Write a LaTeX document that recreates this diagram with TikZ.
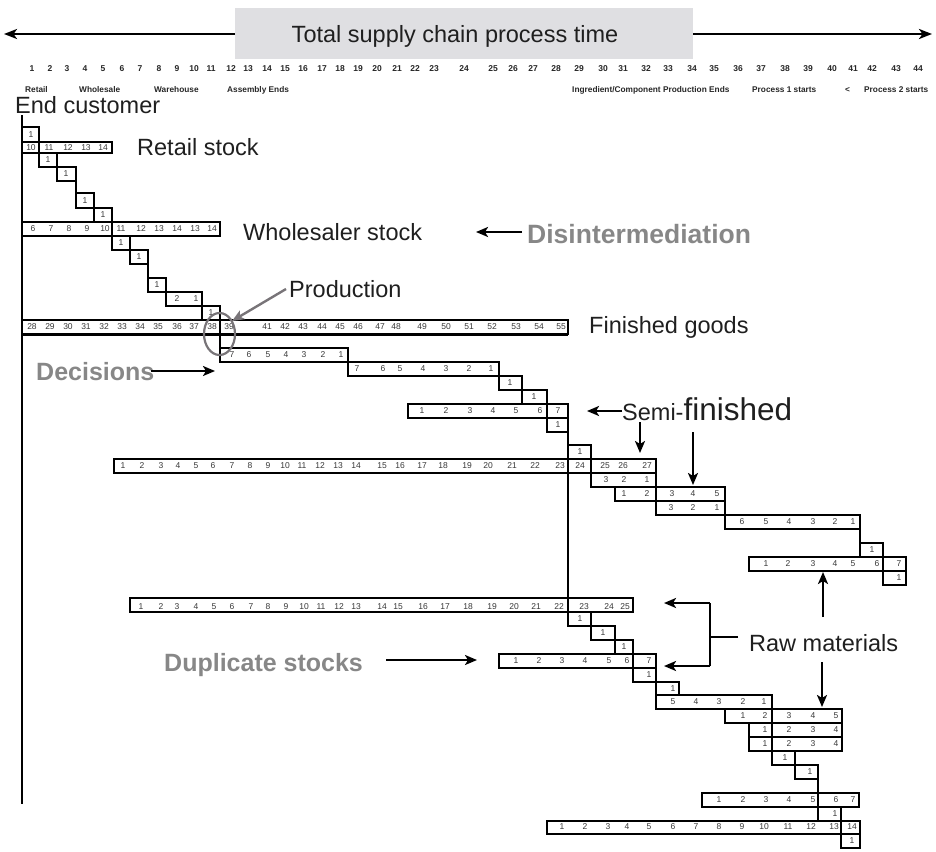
\documentclass[tikz,border=0pt]{standalone}
\usepackage{fontspec}
\setmainfont{Liberation Sans}
\usetikzlibrary{arrows.meta}
\definecolor{labelgrey}{RGB}{135,135,135}
\definecolor{bargrey}{RGB}{223,223,226}
\definecolor{digitgrey}{RGB}{55,55,55}
\definecolor{prodgrey}{RGB}{120,116,120}
% number row: #1 = name prefix, #2 = y of the row centre, #3 = list of x/number
\newcommand\cellnums[3]{%
  \foreach \cx/\cn [count=\ci] in {#3}
    \node[num] (#1-\ci) at (\cx,#2) {\cn};}
\begin{document}
\begin{tikzpicture}[x=1pt,y=-1pt,
  box/.style={draw=black,line width=2pt,line join=miter},
  spine/.style={draw=black,line width=2pt},
  num/.style={font=\fontsize{8.5}{9}\selectfont,text=digitgrey,inner sep=0pt},
  axisnum/.style={font=\bfseries\fontsize{8.5}{9}\selectfont,text=black!85,inner sep=0pt},
  axislbl/.style={font=\bfseries\fontsize{8.3}{9}\selectfont,text=black!85,inner sep=0pt,anchor=base west},
  biglabel/.style={font=\fontsize{23.5}{26}\selectfont,text=black!88,inner sep=0pt,anchor=base west},
  greylabel/.style={font=\bfseries\fontsize{25}{28}\selectfont,text=labelgrey,inner sep=0pt,anchor=base west},
  pointer/.style={line width=2.2pt,-{Stealth[length=12pt,width=10pt,inset=3pt]}},
  axisarrow/.style={line width=2.6pt,-{Stealth[length=13pt,width=10pt,inset=3.5pt]}},
]
\useasboundingbox (0,0) rectangle (936,851);

% ---------- time axis ----------
\fill[bargrey] (235,8) rectangle (693,59);
\node[font=\fontsize{23.5}{26}\selectfont,text=black!88,inner sep=0pt,anchor=base] (title) at (455,42) {Total supply chain process time};
\coordinate (axL) at (4,34);
\coordinate (axR) at (932,34);
\coordinate (barL) at (235,34);
\coordinate (barR) at (693,34);
\draw[axisarrow] (barL) -- (axL);
\draw[axisarrow] (barR) -- (axR);

\foreach \ax [count=\ai] in {32,50,67,85,103,122,140,159,177,194,211,231,248,267,285,303,322,340,358,377,397,415,434,464,493,513,533,556,579,603,623,646,668,692,714,738,761,785,808,832,853,872,896,918}
  \node[axisnum] (t\ai) at (\ax,69) {\ai};

\node[axislbl] (lretail) at (25,92) {Retail};
\node[axislbl] (lwhole) at (79,92) {Wholesale};
\node[axislbl] (lware) at (154,92) {Warehouse};
\node[axislbl] (lassy) at (227,92) {Assembly Ends};
\node[axislbl] (lingr) at (572,92) {Ingredient/Component Production Ends};
\node[axislbl] (lproc1) at (752,92) {Process 1 starts};
\node[axislbl] (llt) at (845,92) {<};
\node[axislbl] (lproc2) at (864,92) {Process 2 starts};

% ---------- labels ----------
\node[biglabel] (endcust) at (15,113) {End customer};
\node[biglabel] (retail) at (137,155) {Retail stock};
\node[biglabel] (whole) at (243,240) {Wholesaler stock};
\node[biglabel] (prod) at (289,297) {Production};
\node[biglabel] (fin) at (589,333) {Finished goods};
\node[biglabel] (semi) at (622,420) {Semi-{\fontsize{31.5}{34}\selectfont finished}};
\node[biglabel] (raw) at (749,651) {Raw materials};
\node[greylabel,font=\bfseries\fontsize{26.5}{29}\selectfont] (disint) at (527,243) {Disintermediation};
\node[greylabel] (decis) at (36,380) {Decisions};
\node[greylabel] (dupl) at (164,671) {Duplicate stocks};

% ---------- staircase spine ----------
\draw[spine] (22,115) -- (22,804);
\foreach \sx/\sa/\sb in {39/127/167, 57/153/181, 76/167/208, 94/193/222, 112/208/250,
  130/236/264, 148/250/292, 166/278/306, 202/292/320, 220/306/362, 348/348/376,
  499/362/390, 522/376/404, 547/390/432, 568/404/626, 591/445/487, 656/459/515,
  725/487/529, 860/515/557, 883/543/585, 906/557/585, 591/612/640, 615/626/654,
  633/640/682, 656/654/709, 679/682/695, 772/695/765, 795/751/779, 818/765/821,
  841/807/848, 860/821/848}
  \draw[spine] (\sx,\sa) -- (\sx,\sb);

% ---------- stock rows and unit steps ----------
\foreach \xa/\ya/\xb/\yb in {22/127/39/142, 22/142/112/153, 39/153/57/167, 57/167/76/181,
  76/193/94/208, 94/208/112/222, 22/222/220/236, 112/236/130/250, 130/250/148/264,
  148/278/166/292, 166/292/202/306, 202/306/220/320, 22/320/568/334,
  220/348/348/362, 348/362/499/376, 499/376/522/390, 522/390/547/404,
  408/404/568/418, 547/418/568/432, 568/445/591/459, 114/459/656/473,
  591/473/656/487, 615/487/725/501, 656/501/725/515, 725/515/860/529,
  860/543/883/557, 749/557/906/571, 883/571/906/585,
  130/598/633/612, 568/612/591/626, 591/626/615/640, 615/640/633/654,
  499/654/656/668, 633/668/656/682, 656/682/679/695, 656/695/772/709,
  725/709/842/723, 749/723/842/737, 749/737/842/751, 772/751/795/765,
  795/765/818/779, 702/793/859/807, 818/807/841/821, 547/821/860/834, 841/834/860/848}
  \draw[box] (\xa,\ya) rectangle (\xb,\yb);
\draw[line width=3pt] (22,334) -- (568,334);

% ---------- cell numbers ----------
\cellnums{a}{135}{31/1}
\cellnums{b}{148}{31/10,49/11,68/12,86/13,103/14}
\cellnums{c}{160}{48/1}
\cellnums{d}{174}{66/1}
\cellnums{e}{201}{85/1}
\cellnums{f}{215}{103/1}
\cellnums{g}{229}{33/6,51/7,69/8,87/9,105/10,121/11,141/12,159/13,177/14,195/13,212/14}
\cellnums{h}{243}{121/1}
\cellnums{i}{257}{139/1}
\cellnums{j}{285}{157/1}
\cellnums{k}{299}{177/2,196/1}
\cellnums{l}{313}{211/1}
\cellnums{m}{327}{32/28,50/29,68/30,86/31,104/32,122/33,140/34,158/35,177/36,194/37,212/38,229/39,
  267/41,285/42,303/43,322/44,340/45,358/46,380/47,396/48,422/49,446/50,469/51,492/52,516/53,539/54,561/55}
\cellnums{n}{355}{232/7,249/6,268/5,286/4,304/3,323/2,341/1}
\cellnums{o}{369}{357/7,383/6,400/5,423/4,446/3,469/2,491/1}
\cellnums{p}{383}{510/1}
\cellnums{q}{397}{534/1}
\cellnums{r}{411}{422/1,446/2,470/3,493/4,516/5,540/6,558/7}
\cellnums{s}{425}{558/1}
\cellnums{u}{452}{580/1}
\cellnums{v}{466}{123/1,142/2,161/3,178/4,196/5,213/6,232/7,250/8,268/9,285/10,302/11,320/12,338/13,356/14,
  382/15,400/16,422/17,443/18,467/19,488/20,512/21,535/22,560/23,580/24,605/25,623/26,647/27}
\cellnums{w}{480}{606/3,624/2,647/1}
\cellnums{x}{494}{624/1,647/2,672/3,693/4,717/5}
\cellnums{y}{508}{671/3,693/2,717/1}
\cellnums{z}{522}{742/6,766/5,789/4,813/3,835/2,853/1}
\cellnums{aa}{550}{872/1}
\cellnums{ab}{564}{766/1,788/2,813/3,835/4,853/5,877/6,899/7}
\cellnums{ac}{578}{899/1}
\cellnums{ad}{607}{141/1,161/2,177/3,196/4,214/5,232/6,251/7,268/8,286/9,304/10,321/11,339/12,356/13,
  382/14,398/15,423/16,445/17,468/18,492/19,514/20,536/21,559/22,584/23,609/24,625/25}
\cellnums{ae}{619}{580/1}
\cellnums{af}{633}{603/1}
\cellnums{ag}{647}{624/1}
\cellnums{ah}{661}{516/1,539/2,562/3,585/4,609/5,627/6,649/7}
\cellnums{ai}{675}{649/1}
\cellnums{aj}{689}{673/1}
\cellnums{ak}{702}{673/5,696/4,719/3,743/2,764/1}
\cellnums{al}{716}{743/1,765/2,789/3,813/4,836/5}
\cellnums{am}{730}{765/1,789/2,813/3,836/4}
\cellnums{an}{744}{765/1,789/2,813/3,836/4}
\cellnums{ao}{758}{785/1}
\cellnums{ap}{772}{810/1}
\cellnums{aq}{800}{719/1,743/2,766/3,789/4,813/5,836/6,853/7}
\cellnums{ar}{814}{835/1}
\cellnums{as}{827}{562/1,585/2,608/3,627/4,649/5,673/6,696/7,719/8,742/9,764/10,788/11,811/12,834/13,852/14}
\cellnums{at}{841}{852/1}

% ---------- pointers ----------
\coordinate (disTip) at (476,232);
\draw[pointer] (disint.west |- disTip) ++(-5,0) -- (disTip);
\coordinate (decTip) at (215,371);
\draw[pointer] (151,371) -- (decTip);
\coordinate (dupTip) at (477,660);
\draw[pointer] (386,660) -- (dupTip);
\coordinate (semiTip) at (587,411);
\draw[pointer] (semi.west |- semiTip) -- (semiTip);
\coordinate (semiDown) at (640,453);
\draw[pointer] (640,422) -- (semiDown);
\coordinate (finDown) at (693,485);
\draw[pointer] (693,432) -- (finDown);
\coordinate (rawUp) at (823,572);
\draw[pointer] (823,617) -- (rawUp);
\coordinate (rawDown) at (822,707);
\draw[pointer] (822,662) -- (rawDown);
\coordinate (brk) at (710,637);
\coordinate (rawTopTip) at (664,603);
\coordinate (rawBotTip) at (664,666);
\draw[line width=2pt] (raw.west |- brk) ++(-11,0) -- (brk);
\draw[line width=2pt] (710,603) -- (710,666);
\draw[pointer] (710,603) -- (rawTopTip);
\draw[pointer] (710,666) -- (rawBotTip);

% production marker
\draw[prodgrey,line width=2.2pt] (219.5,334) ellipse [x radius=15.5, y radius=21];
\coordinate (prodTip) at (232,321);
\draw[prodgrey,line width=2.4pt,-{Stealth[length=12pt,width=10pt,inset=3pt]}] (286,289) -- (prodTip);
\end{tikzpicture}
\end{document}
